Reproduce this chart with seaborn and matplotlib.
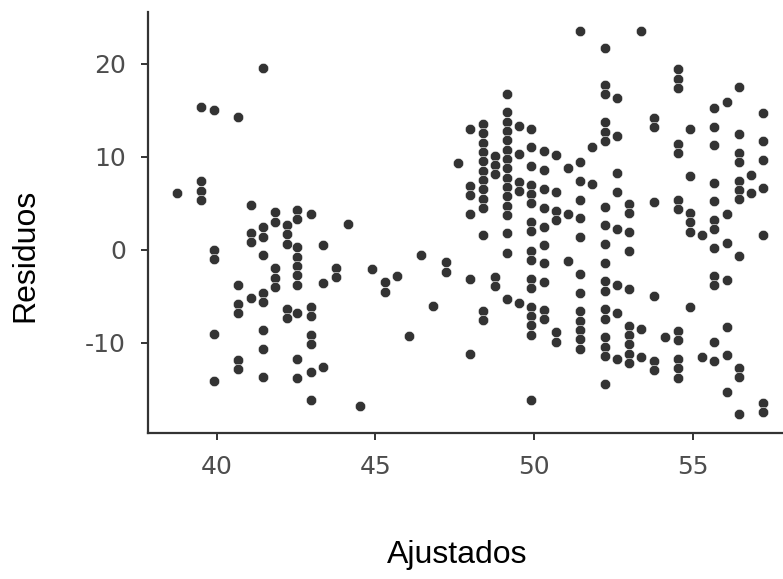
import numpy as np
import pandas as pd
import matplotlib
matplotlib.use("Agg")
import matplotlib.pyplot as plt
import seaborn as sns

fitted_levels = [
    38.76, 39.52, 39.91, 40.68, 41.07, 41.46, 41.83, 42.22, 42.54, 42.99,
    43.37, 43.77, 44.14, 44.53, 44.91, 45.30, 45.69, 46.07, 46.45, 46.83,
    47.22, 47.61, 47.99, 48.39, 48.77, 49.15, 49.53, 49.91, 50.31, 50.69,
    51.07, 51.46, 51.84, 52.23, 52.61, 53.00, 53.39, 53.77, 54.14, 54.54,
    54.92, 55.31, 55.69, 56.08, 56.47, 56.85, 57.23,
]
residual_groups = [
    [6.16],
    [15.41, 7.39, 6.38, 5.38],
    [15.05, 0.0, -1.0, -9.03, -14.09],
    [14.27, -3.80, -5.81, -6.81, -11.83, -12.83],
    [4.84, 1.86, 0.86, -5.16],
    [19.54, 2.44, 1.43, -0.57, -4.59, -5.59, -8.60, -10.65, -13.62],
    [4.05, 3.04, -1.97, -2.98, -3.98],
    [2.69, 1.69, 0.68, -6.34, -7.34],
    [4.30, 3.30, 0.29, -0.72, -1.72, -2.72, -3.73, -6.74, -11.75, -13.80],
    [3.90, -6.13, -7.13, -9.14, -10.14, -13.15, -16.16],
    [0.51, -3.52, -12.55],
    [-1.90, -2.90],
    [2.76],
    [-16.74],
    [-2.04],
    [-3.44, -4.48],
    [-2.80],
    [-9.22],
    [-0.57],
    [-5.99],
    [-1.32, -2.37],
    [9.32],
    [12.98, 6.91, 5.91, 3.90, -3.15, -11.15],
    [13.55, 12.55, 11.54, 10.54, 9.54, 8.53, 7.53, 6.53, 5.52, 4.52, 1.58,
     -6.56, -7.56],
    [10.14, 9.14, 8.14, -2.90, -3.90],
    [16.81, 14.81, 13.80, 12.80, 11.80, 10.78, 9.78, 8.78, 7.77, 6.77, 5.77,
     4.76, 3.76, 1.80, -0.29, -5.30],
    [13.37, 10.35, 7.34, 6.34, -5.67],
    [13.04, 11.02, 9.03, 7.02, 6.02, 5.02, 3.01, 1.99, -0.08, -1.08, -3.09,
     -4.09, -6.10, -7.10, -8.10, -9.11, -16.10],
    [10.61, 8.60, 6.56, 4.55, 2.51, 0.57, -1.43, -3.44, -6.45, -7.45],
    [10.22, 6.20, 4.19, 3.19, -8.85, -9.86],
    [8.85, 3.87, -1.18],
    [23.52, 9.43, 7.42, 5.41, 3.41, 1.43, -2.58, -4.59, -6.59, -7.60, -8.60,
     -9.60, -10.61],
    [11.08, 7.06],
    [21.75, 17.74, 16.74, 13.73, 12.72, 11.72, 4.66, 2.66, 0.65, -1.37, -3.37,
     -4.38, -6.38, -7.39, -9.39, -10.40, -11.40, -14.41],
    [16.31, 12.29, 8.28, 6.27, 2.26, -3.76, -6.74, -11.75],
    [4.95, 3.95, 1.90, -0.14, -4.16, -8.14, -9.14, -10.14, -11.15, -12.18],
    [23.58, -8.53, -11.54],
    [14.19, 13.19, 5.13, -4.91, -11.94, -12.94],
    [-9.32],
    [19.43, 18.42, 17.42, 11.40, 10.40, 5.38, 4.38, -8.68, -9.68, -11.72,
     -12.72, -13.73],
    [13.01, 7.99, 3.98, 2.98, 1.97, -6.10],
    [1.58, -11.47],
    [15.27, 13.26, 11.26, 7.20, 5.24, 3.23, 2.23, 0.18, -2.80, -3.80, -9.86,
     -11.90],
    [15.88, 3.84, 0.78, -3.23, -8.25, -11.29, -15.30],
    [17.49, 12.47, 10.46, 9.46, 7.45, 6.45, 5.45, -0.61, -12.66, -13.66,
     -17.67],
    [8.10, 6.10],
    [14.70, 11.69, 9.68, 6.67, 1.61, -16.42, -17.42],
]
x_ticks = [40, 45, 50, 55]
y_ticks = [-10, 0, 10, 20]

rows = []
for fit, group in zip(fitted_levels, residual_groups):
    for r in group:
        rows.append({"Ajustados": fit, "Residuos": r})
df = pd.DataFrame(rows)

sns.set_style("ticks")
plt.rcParams['font.family'] = ['DejaVu Sans']
plt.rcParams['axes.unicode_minus'] = False

fig = plt.figure(figsize=(7.83, 5.79), dpi=100)
ax = fig.add_axes([148 / 783, 146 / 579, 635 / 783, 421 / 579])

sns.scatterplot(data=df, x="Ajustados", y="Residuos", ax=ax,
                color="#333333", s=56, edgecolor="white", linewidth=0.4)

ax.set_xlim(37.84, 57.85)
ax.set_ylim(-19.68, 25.59)
ax.set_xticks(x_ticks)
ax.set_yticks(y_ticks)
ax.set_xticklabels([str(t) for t in x_ticks])
ax.set_yticklabels([str(t) for t in y_ticks])

for side in ["top", "right"]:
    ax.spines[side].set_visible(False)
for side in ["left", "bottom"]:
    ax.spines[side].set_color("#333333")
    ax.spines[side].set_linewidth(1.6)
ax.tick_params(axis="both", length=5, width=1.4, color="#333333",
               labelsize=18, labelcolor="#4d4d4d", pad=11)
for lab in ax.get_xticklabels() + ax.get_yticklabels():
    lab.set_fontfamily("DejaVu Sans")

ax.set_xlabel("Ajustados", fontsize=23, family="Liberation Sans", color="black")
ax.set_ylabel("Residuos", fontsize=23, family="Liberation Sans", color="black")
ax.xaxis.set_label_coords(457 / 783, 1 - 540 / 579, transform=fig.transFigure)
ax.yaxis.set_label_coords(40 / 783, 1 - 255 / 579, transform=fig.transFigure)

fig.savefig("out.png", dpi=100)
